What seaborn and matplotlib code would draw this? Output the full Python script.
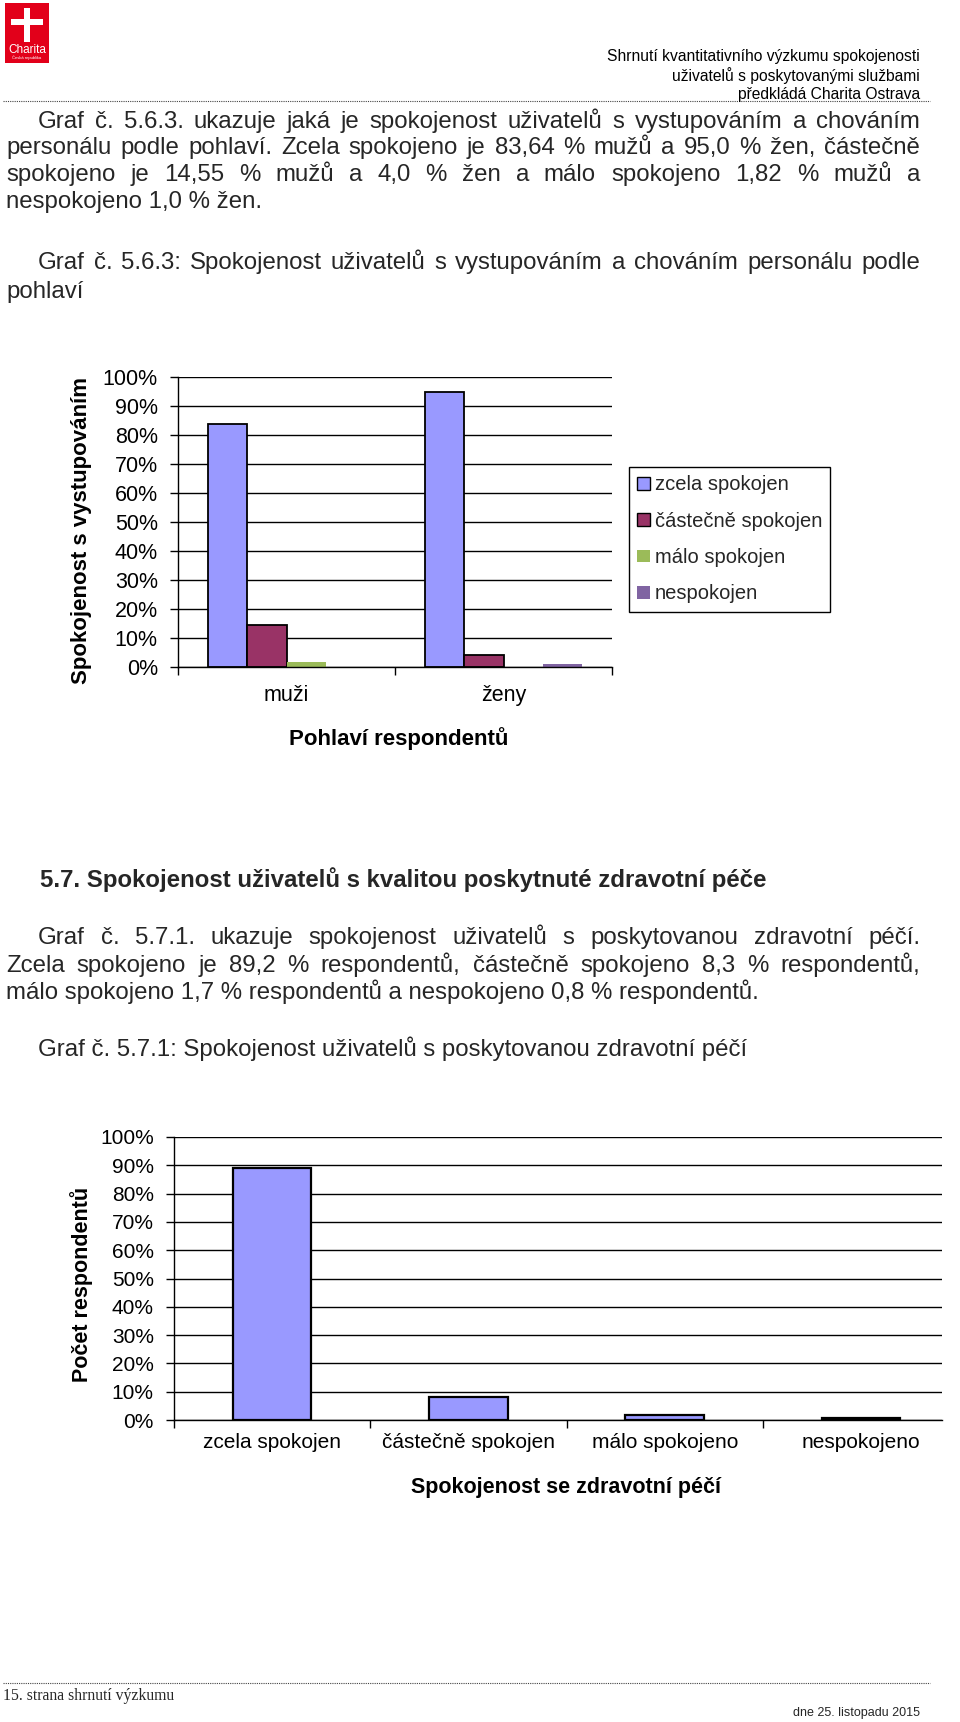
import numpy as np
import pandas as pd
import matplotlib
matplotlib.use("Agg")
import matplotlib.pyplot as plt
import seaborn as sns
from matplotlib.patches import Rectangle, Patch
from matplotlib.lines import Line2D
from matplotlib import font_manager as fm
from matplotlib.colors import to_hex

# ---------------- data ----------------
genders = ["muži", "ženy"]
levels1 = ["zcela spokojen", "částečně spokojen", "málo spokojen", "nespokojen"]
muzi_vals = [83.64, 14.55, 1.82, 0.0]
zeny_vals = [95.0, 4.0, 0.0, 1.0]
levels2 = ["zcela spokojen", "částečně spokojen", "málo spokojeno", "nespokojeno"]
care_vals = [89.2, 8.3, 1.7, 0.8]
y_ticks = list(range(0, 101, 10))
y_ticklabels = [f"{v}%" for v in y_ticks]
colors1 = ["#9999FF", "#993366", "#9BBB59", "#8064A2"]
color2 = "#9999FF"

header_lines = ["Shrnutí kvantitativního výzkumu spokojenosti",
                "uživatelů s poskytovanými službami",
                "předkládá Charita Ostrava"]
para1 = ["Graf č. 5.6.3. ukazuje jaká je spokojenost uživatelů s vystupováním a chováním",
         "personálu podle pohlaví. Zcela spokojeno je 83,64 % mužů a 95,0 % žen, částečně",
         "spokojeno je 14,55 % mužů a 4,0 % žen a málo spokojeno 1,82 % mužů a",
         "nespokojeno 1,0 % žen."]
caption1 = ["Graf č. 5.6.3: Spokojenost uživatelů s vystupováním a chováním personálu podle",
            "pohlaví"]
heading2 = "5.7. Spokojenost uživatelů s kvalitou poskytnuté zdravotní péče"
para2 = ["Graf č. 5.7.1. ukazuje spokojenost uživatelů s poskytovanou zdravotní péčí.",
         "Zcela spokojeno je 89,2 % respondentů, částečně spokojeno 8,3 % respondentů,",
         "málo spokojeno 1,7 % respondentů a nespokojeno 0,8 % respondentů."]
caption2 = "Graf č. 5.7.1: Spokojenost uživatelů s poskytovanou zdravotní péčí"
footer_left = "15. strana shrnutí výzkumu"
footer_right = "dne 25. listopadu 2015"

# ---------------- setup ----------------
W, H = 960, 1722
sns.set_theme(style="white")
plt.rcParams["font.family"] = ["Liberation Sans", "DejaVu Sans"]
names = {f.name for f in fm.fontManager.ttflist}
narrow = "Liberation Sans Narrow" if "Liberation Sans Narrow" in names else "Liberation Sans"

fig = plt.figure(figsize=(W / 100, H / 100), dpi=100)
fig.patch.set_facecolor("white")
renderer = fig.canvas.get_renderer()


def fx(px):
    return px / W


def fy(py):
    return 1 - py / H


def text_width(s, **kw):
    t = fig.text(0, 0, s, **kw)
    w = t.get_window_extent(renderer).width
    t.remove()
    return w


def baseline_shift(**kw):
    # distance (px) from the visual centre of a normal line to its baseline
    t = fig.text(0, 0.5, "lp", va="baseline", **kw)
    bb = t.get_window_extent(renderer)
    t.remove()
    base = 0.5 * H
    return (bb.y0 + bb.y1) / 2 - base


def put_line(s, x0, x1, y, justify, **kw):
    yb = y + baseline_shift(**kw)
    if not justify:
        fig.text(fx(x0), fy(yb), s, va="baseline", ha="left", **kw)
        return
    words = s.split(" ")
    widths = [text_width(w_, **kw) for w_ in words]
    gap = (x1 - x0 - sum(widths)) / (len(words) - 1)
    x = x0
    for w_, wd in zip(words, widths):
        fig.text(fx(x), fy(yb), w_, va="baseline", ha="left", **kw)
        x += wd + gap


def fit_size(s, target, base=12, **kw):
    return base * target / text_width(s, fontsize=base, **kw)


# ---------------- page decorations ----------------
fig.add_artist(Rectangle((fx(5), fy(63)), 44 / W, 60 / H, transform=fig.transFigure,
                         facecolor="#E2001A", edgecolor="none"))
fig.add_artist(Rectangle((fx(24), fy(42)), 6 / W, 34 / H, transform=fig.transFigure,
                         facecolor="white", edgecolor="none"))
fig.add_artist(Rectangle((fx(11), fy(25)), 32 / W, 6 / H, transform=fig.transFigure,
                         facecolor="white", edgecolor="none"))
fig.text(fx(27), fy(50), "Charita", color="white", fontsize=8.5, ha="center", va="center")
fig.text(fx(27), fy(58), "Česká republika", color="white", fontsize=3, ha="center", va="center")

hs = fit_size(header_lines[0], 313, family=narrow)
for line, y in zip(header_lines, [57, 76, 94]):
    fig.text(fx(920), fy(y), line, fontsize=hs, family=narrow, ha="right", va="center", color="black")

for y in [101, 1683]:
    fig.add_artist(Line2D([fx(3), fx(930)], [fy(y), fy(y)], transform=fig.transFigure,
                          color="#444444", lw=0.8, ls=(0, (1, 1))))

fls = fit_size(footer_left, 171, family="Liberation Serif")
fig.text(fx(3), fy(1696), footer_left, fontsize=fls, family="Liberation Serif", ha="left", va="center")
frs = fit_size(footer_right, 127, family=narrow)
fig.text(fx(920), fy(1713), footer_right, fontsize=frs, family=narrow, ha="right", va="center")

# ---------------- body text ----------------
BODY = 17.3
for i, (line, y) in enumerate(zip(para1, [122, 148, 175, 202])):
    x0 = 38 if i == 0 else 6
    put_line(line, x0, 920, y, justify=(i < len(para1) - 1), fontsize=BODY)
put_line(caption1[0], 38, 920, 263, justify=True, fontsize=BODY)
put_line(caption1[1], 6, 920, 292, justify=False, fontsize=BODY)

put_line(heading2, 40, 920, 880, justify=False, fontsize=BODY, fontweight="bold")
for i, (line, y) in enumerate(zip(para2, [938, 966, 993])):
    x0 = 38 if i == 0 else 6
    put_line(line, x0, 920, y, justify=(i < len(para2) - 1), fontsize=BODY)
put_line(caption2, 38, 920, 1050, justify=False, fontsize=BODY)


# ---------------- chart styling helper ----------------
def style_axis(ax, ncat, xmax, tick_fs, xpad):
    ax.set_ylim(0, 100)
    ax.set_xlim(-0.5, xmax)
    ax.set_yticks(y_ticks)
    ax.set_yticklabels(y_ticklabels)
    ax.set_axisbelow(True)
    ax.yaxis.grid(True, color="black", lw=1)
    ax.xaxis.grid(False)
    for side in ["top", "right"]:
        ax.spines[side].set_visible(False)
    for side in ["left", "bottom"]:
        ax.spines[side].set_color("black")
        ax.spines[side].set_linewidth(1)
    bounds = [b for b in np.arange(-0.5, ncat, 1.0) if b <= xmax + 1e-9]
    ax.set_xticks(bounds, minor=True)
    ax.tick_params(axis="x", which="minor", length=6, width=1, color="black", bottom=True)
    ax.tick_params(axis="x", which="major", length=0, labelsize=tick_fs, pad=xpad, colors="black")
    ax.tick_params(axis="y", which="major", length=6, width=1, color="black", left=True,
                   labelsize=tick_fs, pad=8.5, labelcolor="black")
    ax.set_facecolor("white")


# ---------------- chart 1 ----------------
ax1 = fig.add_axes([fx(178), fy(667), (612 - 178) / W, (667 - 377) / H])
df1 = pd.DataFrame({
    "gender": np.repeat(genders, len(levels1)),
    "level": levels1 * len(genders),
    "value": muzi_vals + zeny_vals,
})
sns.barplot(data=df1, x="gender", y="value", hue="level", hue_order=levels1,
            palette=colors1, width=0.72, saturation=1, edgecolor="black",
            linewidth=1.3, legend=False, ax=ax1)
no_edge = {to_hex(colors1[2]).lower(), to_hex(colors1[3]).lower()}
for p in ax1.patches:
    if to_hex(p.get_facecolor()).lower() in no_edge:
        p.set_linewidth(0)
style_axis(ax1, len(genders), len(genders) - 0.5, 15.5, 13)
ax1.set_xlabel("Pohlaví respondentů", fontsize=16, fontweight="bold", color="black")
ax1.set_ylabel("Spokojenost s vystupováním", fontsize=16, fontweight="bold", color="black")
ax1.xaxis.set_label_coords(fx(399), fy(739), transform=fig.transFigure)
ax1.yaxis.set_label_coords(fx(82), fy(530), transform=fig.transFigure)
ax1.xaxis.label.set_va("center")
ax1.yaxis.label.set_va("center")

handles = [Patch(facecolor=c, edgecolor=("black" if i < 2 else c), linewidth=(1 if i < 2 else 0))
           for i, c in enumerate(colors1)]
leg = fig.legend(handles, levels1, loc="upper left", bbox_to_anchor=(fx(629), fy(467)),
                 bbox_transform=fig.transFigure, fontsize=14.5, frameon=True, fancybox=False,
                 edgecolor="black", framealpha=1, borderpad=0.42, labelspacing=0.86,
                 handlelength=0.6, handleheight=0.6, handletextpad=0.25, borderaxespad=0)
leg.get_frame().set_linewidth(1)

# ---------------- chart 2 ----------------
cat_px = 196.3
x_left2, x_right2 = 174, 942
xmax2 = -0.5 + (x_right2 - x_left2) / cat_px
ax2 = fig.add_axes([fx(x_left2), fy(1420), (x_right2 - x_left2) / W, (1420 - 1137) / H])
df2 = pd.DataFrame({"level": levels2, "value": care_vals})
sns.barplot(data=df2, x="level", y="value", color=color2, saturation=1, width=0.4,
            edgecolor="black", linewidth=1.6, ax=ax2)
style_axis(ax2, len(levels2), xmax2, 15, 9)
ax2.set_xlabel("Spokojenost se zdravotní péčí", fontsize=15.5, fontweight="bold", color="black")
ax2.set_ylabel("Počet respondentů", fontsize=15.5, fontweight="bold", color="black")
ax2.xaxis.set_label_coords(fx(566), fy(1488), transform=fig.transFigure)
ax2.yaxis.set_label_coords(fx(82), fy(1284), transform=fig.transFigure)
ax2.xaxis.label.set_va("center")
ax2.yaxis.label.set_va("center")

fig.savefig("out.png", dpi=100, facecolor="white")
